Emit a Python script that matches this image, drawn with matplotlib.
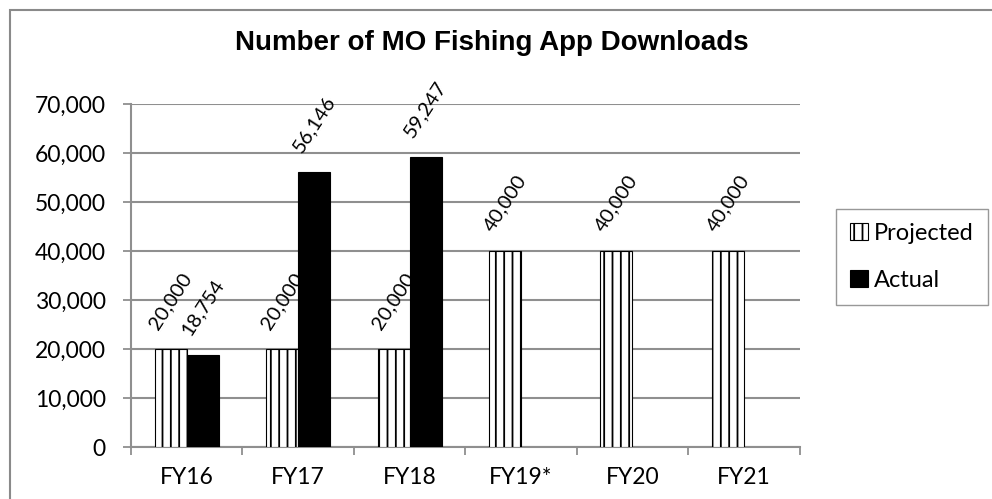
import matplotlib
matplotlib.use('Agg')
import matplotlib.pyplot as plt
from matplotlib.patches import Rectangle
import numpy as np

categories = ['FY16', 'FY17', 'FY18', 'FY19*', 'FY20', 'FY21']
projected = [20000, 20000, 20000, 40000, 40000, 40000]
actual = [18754, 56146, 59247, None, None, None]
yticks = [0, 10000, 20000, 30000, 40000, 50000, 60000, 70000]

GRID = '#8f8f8f'
LABEL_FONT = 'Lato'
plt.rcParams['hatch.linewidth'] = 1.3

fig = plt.figure(figsize=(9.92, 4.99), dpi=100)
ax = fig.add_axes([0.132, 0.104, 0.674, 0.687])

x = np.arange(len(categories))
w = 0.287
bp = ax.bar(x - w / 2, projected, w, color='white', edgecolor='black',
            linewidth=0.8, hatch='||', label='Projected', zorder=3)
act_vals = [np.nan if v is None else v for v in actual]
ba = ax.bar(x + w / 2, act_vals, w, color='black', edgecolor='black',
            linewidth=0.8, label='Actual', zorder=3)

for xi, v in zip(x - w / 2, projected):
    ax.annotate(f'{v:,}', (xi, v), xytext=(0, 12), textcoords='offset points',
                rotation=57, ha='center', va='bottom', fontsize=14.5,
                family=LABEL_FONT)
for xi, v in zip(x + w / 2, actual):
    if v is None:
        continue
    ax.annotate(f'{v:,}', (xi, v), xytext=(0, 12), textcoords='offset points',
                rotation=57, ha='center', va='bottom', fontsize=14.5,
                family=LABEL_FONT)

ax.set_xlim(-0.5, len(categories) - 0.5)
ax.set_ylim(0, 70000)
ax.set_yticks(yticks)
ax.set_yticklabels([f'{t:,}' for t in yticks], family=LABEL_FONT, fontsize=16.5)
ax.set_xticks(x)
ax.set_xticklabels(categories, family=LABEL_FONT, fontsize=16.5)
ax.set_xticks(np.arange(-0.5, len(categories)), minor=True)
ax.tick_params(axis='x', which='major', length=0, pad=14)
ax.tick_params(axis='x', which='minor', length=6, width=1.3, color=GRID,
               direction='out')
ax.tick_params(axis='y', length=6, width=1.3, color=GRID, direction='out', pad=12)

ax.grid(axis='y', color=GRID, linewidth=1.5, zorder=0)
ax.set_axisbelow(True)
for s in ['top', 'right']:
    ax.spines[s].set_visible(False)
for s in ['left', 'bottom']:
    ax.spines[s].set_color(GRID)
    ax.spines[s].set_linewidth(1.5)

fig.text(0.496, 0.913, 'Number of MO Fishing App Downloads', ha='center',
         va='center', fontsize=20, fontweight='bold', family='Liberation Sans')

leg = fig.legend(handles=[bp, ba], loc='center left',
                 bbox_to_anchor=(0.843, 0.485), borderaxespad=0,
                 frameon=True, fancybox=False,
                 edgecolor='#7f7f7f', prop={'family': LABEL_FONT, 'size': 17},
                 handlelength=0.75, handleheight=0.75, handletextpad=0.25,
                 labelspacing=1.1, borderpad=0.6)
leg.get_frame().set_linewidth(1.0)

# outer chart border (right and bottom edges are cropped in the reference)
fig.add_artist(Rectangle((0.01, -0.1), 1.2, 1.08, transform=fig.transFigure,
                         fill=False, edgecolor='#8a8a8a', linewidth=1.5))

fig.savefig('out.png', dpi=100)
